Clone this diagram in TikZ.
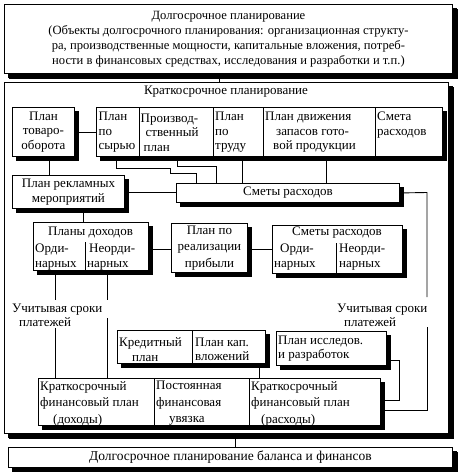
\documentclass[tikz,border=0pt]{standalone}
\usepackage{fontspec}
\setmainfont{Liberation Serif}
\usetikzlibrary{shadows}
\begin{document}
\begin{tikzpicture}[x=1pt,y=-1pt,
  every node/.style={font=\fontsize{13}{14.5}\selectfont},
  ln/.style={line width=0.9pt},
  box/.style={draw, line width=0.9pt, fill=white, inner sep=0pt, anchor=north west,
    general shadow={fill=black, draw=black, shadow xshift=4pt, shadow yshift=-4pt}},
  bigbox/.style={box, general shadow={fill=black, draw=black, shadow xshift=5pt, shadow yshift=-5pt}},
  txt/.style={inner sep=0pt, anchor=west, align=left},
  ctxt/.style={inner sep=0pt, align=center},
]
\useasboundingbox (0,0) rectangle (458,472);
% reference x / y coordinates
\foreach \n/\v in {49,55,83,107,116,177,196,216,219,235,242,259,326,399,427}{\coordinate (x\n) at (\v,0);}
\foreach \n/\v in {192,249,360,400,410}{\coordinate (y\n) at (0,\v);}

% top box
\node[bigbox, minimum width=448pt, minimum height=69pt, align=center,
  font=\fontsize{12.6}{15}\selectfont] (lt) at (4,4)
  {Долгосрочное планирование\\
   (Объекты долгосрочного планирования: организационная структу-\\
   ра, производственные мощности, капитальные вложения, потреб-\\
   ности в финансовых средствах, исследования и разработки и т.п.)};

% big box
\node[bigbox, minimum width=444pt, minimum height=351pt] (st) at (4,82) {};
\node[ctxt] (stt) at (226,92) {Краткосрочное планирование};

% bottom box
\node[bigbox, minimum width=444pt, minimum height=20pt, font=\fontsize{13.5}{15}\selectfont] (lb) at (8,447)
  {Долгосрочное планирование баланса и финансов};

\draw[ln] (lt.south -| x219) -- (st.north -| x219);
\draw[ln] (st.south -| x235) -- (lb.north -| x235);

% plan tovarooborota
\node[box, minimum width=62pt, minimum height=49pt, align=center] (tov) at (12,107)
  {План\\товаро-\\оборота};

% row of plans
\node[box, minimum width=346pt, minimum height=49pt] (row) at (96,107) {};
\foreach \x in {139,213,263,375}{\draw[ln] (\x,107) -- (\x,156);}
\node[txt] (c1) at (98.5,132.5) {План\\по\\сырью};
\node[txt] (c2) at (140.5,132.5) {Производ-\\\hspace{5pt}ственный\\\hspace{3pt}план};
\node[txt] (c3) at (215,132.5) {План\\по\\труду};
\node[txt] (c4) at (265,132.5) {План движения\\\hspace{11pt}запасов гото-\\\hspace{8pt}вой продукции};
\node[txt] (c5) at (377,125) {Смета\\расходов};

\draw[ln] (tov) -- (row);

% reklama
\node[box, minimum width=112pt, minimum height=33pt, align=center] (rek) at (12,175)
  {План рекламных\\мероприятий};
\draw[ln] (tov.south -| x49) -- (rek.north -| x49);

% smety raskhodov
\node[box, minimum width=223pt, minimum height=19pt] (smr) at (176,183) {Сметы расходов};
\draw[ln] (rek.east |- y192) -- (smr.west |- y192);
\draw[ln] (row.south -| x116) -- (116,168) -- (170,168) -- (170,173) -- (196,173) -- (smr.north -| x196);
\draw[ln] (row.south -| x177) -- (177,166) -- (216,166) -- (smr.north -| x216);
\draw[ln] (row.south -| x242) -- (smr.north -| x242);
\draw[ln] (row.south -| x326) -- (smr.north -| x326);

% plany dokhodov
\node[box, minimum width=115pt, minimum height=48pt] (pd) at (33,222) {};
\draw[ln] (85,242) -- (85,270);
\node[ctxt] (pdt) at (90.5,232) {Планы доходов};
\node[txt] (pd1) at (35,257) {Орди-\\нарных};
\node[txt] (pd2) at (87,257) {\hspace{2pt}Неорди-\\нарных};
\draw[ln] (rek.south -| x83) -- (pd.north -| x83);

% realizatsiya
\node[box, minimum width=76pt, minimum height=49pt, align=center,
  font=\fontsize{13}{16.5}\selectfont] (pr) at (171,223)
  {План по\\реализации\\прибыли};
\draw[ln] (pd.east |- y249) -- (pr.west |- y249);

% smety raskhodov 2
\node[box, minimum width=130pt, minimum height=48pt] (sm2) at (272,225) {};
\draw[ln] (336,243) -- (336,273);
\node[ctxt] (sm2t) at (337,233) {Сметы расходов};
\node[txt] (sm21) at (274,257) {\hspace{6pt}Орди-\\нарных};
\node[txt] (sm22) at (339,257) {Неорди-\\нарных};
\draw[ln] (pr.east |- y249) -- (sm2.west |- y249);

% labels
\node[txt] (uL) at (12,315.5) {Учитывая сроки\\\hspace{7pt}платежей};
\node[txt] (uR) at (337,315.5) {Учитывая сроки\\\hspace{7pt}платежей};

% kredit
\node[box, minimum width=148pt, minimum height=33pt] (kr) at (117,330) {};
\draw[ln] (192,330) -- (192,363);
\node[txt] (kr1) at (119,349.5) {Кредитный\\\hspace{13pt}план};
\node[txt] (kr2) at (195,349.5) {План кап.\\вложений};

% issledovaniya
\node[box, minimum width=110pt, minimum height=34pt] (ir) at (276,331) {};
\node[txt] (irt) at (278,348.5) {План исследов.\\и разработок};

% financial plan
\node[box, minimum width=342pt, minimum height=47pt] (kf) at (38,378) {};
\draw[ln] (154,378) -- (154,425);
\draw[ln] (249,378) -- (249,425);
\node[txt, font=\fontsize{13}{16.5}\selectfont] (kf1) at (40,403.5)
  {Краткосрочный\\финансовый план\\\hspace{13pt}(доходы)};
\node[txt, font=\fontsize{13}{16.5}\selectfont] (kf2) at (156,403.5)
  {Постоянная\\финансовая\\\hspace{13pt}увязка};
\node[txt, font=\fontsize{13}{16.5}\selectfont] (kf3) at (251,403.5)
  {Краткосрочный\\финансовый план\\\hspace{10pt}(расходы)};

% connectors into financial plan
\draw[ln] (pd.south -| x55) -- (55,300);
\draw[ln] (55,328) -- (kf.north -| x55);
\draw[ln] (pd.south -| x107) -- (107,300);
\draw[ln] (107,318) -- (kf.north -| x107);
\draw[ln] (kr.south -| x259) -- (kf.north -| x259);
\draw[ln] (smr.east) -- (427,192.5) -- (427,297);
\draw[ln] (427,327) -- (427,410) -- (kf.east |- y410);
\draw[ln] (ir.east |- y360) -- (399,360) -- (399,400) -- (kf.east |- y400);
\end{tikzpicture}
\end{document}
